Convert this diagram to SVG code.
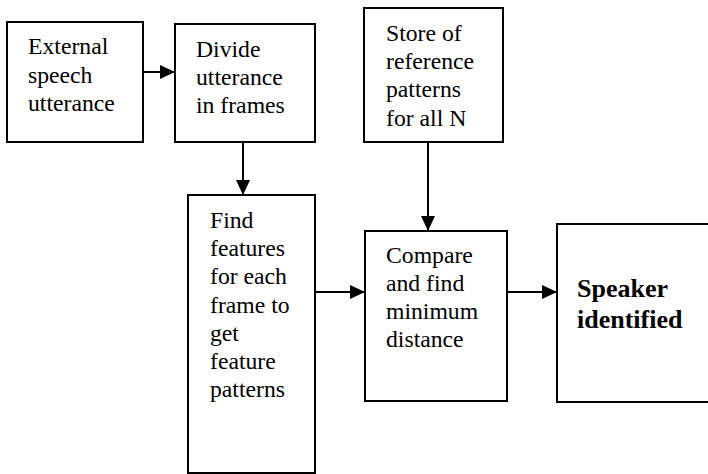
<svg xmlns="http://www.w3.org/2000/svg" width="708" height="474" viewBox="0 0 708 474">
<style>
.box{fill:#fff;stroke:#000;stroke-width:2}
.t{font-family:"Liberation Serif","Times New Roman",serif;font-size:23.7px;fill:#000}
.b{font-family:"Liberation Serif","Times New Roman",serif;font-size:26px;font-weight:bold;fill:#000}
.c{stroke:#000;stroke-width:2;fill:none}
</style>
<defs>
<marker id="ah" viewBox="0 0 15 14" refX="15" refY="7" markerWidth="15" markerHeight="14" markerUnits="userSpaceOnUse" orient="auto">
<path d="M0,0 L15,7 L0,14 Z" fill="#000"/>
</marker>
</defs>
<rect width="708" height="474" fill="#fff"/>
<g id="connectors">
<line class="c" x1="143" y1="72" x2="175" y2="72" marker-end="url(#ah)"/>
<line class="c" x1="243" y1="142" x2="243" y2="195" marker-end="url(#ah)"/>
<line class="c" x1="428" y1="142" x2="428" y2="231" marker-end="url(#ah)"/>
<line class="c" x1="315" y1="292" x2="365" y2="292" marker-end="url(#ah)"/>
<line class="c" x1="507" y1="292" x2="557" y2="292" marker-end="url(#ah)"/>
</g>
<g id="external">
<rect class="box" x="7" y="22" width="136" height="120"/>
<text class="t" x="28" y="54">External</text>
<text class="t" x="28" y="83">speech</text>
<text class="t" x="28" y="111">utterance</text>
</g>
<g id="divide">
<rect class="box" x="175" y="24" width="140" height="118"/>
<text class="t" x="196" y="57">Divide</text>
<text class="t" x="196" y="85">utterance</text>
<text class="t" x="196" y="113">in frames</text>
</g>
<g id="store">
<rect class="box" x="364" y="8" width="139" height="134"/>
<text class="t" x="386" y="41">Store of</text>
<text class="t" x="386" y="69">reference</text>
<text class="t" x="386" y="97">patterns</text>
<text class="t" x="386" y="126">for all N</text>
</g>
<g id="features">
<rect class="box" x="188" y="195" width="127" height="278"/>
<text class="t" x="210" y="228">Find</text>
<text class="t" x="210" y="256">features</text>
<text class="t" x="210" y="284">for each</text>
<text class="t" x="210" y="313">frame to</text>
<text class="t" x="210" y="341">get</text>
<text class="t" x="210" y="369">feature</text>
<text class="t" x="210" y="397">patterns</text>
</g>
<g id="compare">
<rect class="box" x="365" y="231" width="142" height="170"/>
<text class="t" x="386" y="263">Compare</text>
<text class="t" x="386" y="291">and find</text>
<text class="t" x="386" y="319">minimum</text>
<text class="t" x="386" y="347">distance</text>
</g>
<g id="speaker">
<rect class="box" x="557" y="224" width="160" height="178"/>
<text class="b" x="577" y="297">Speaker</text>
<text class="b" x="577" y="328">identified</text>
</g>
</svg>
